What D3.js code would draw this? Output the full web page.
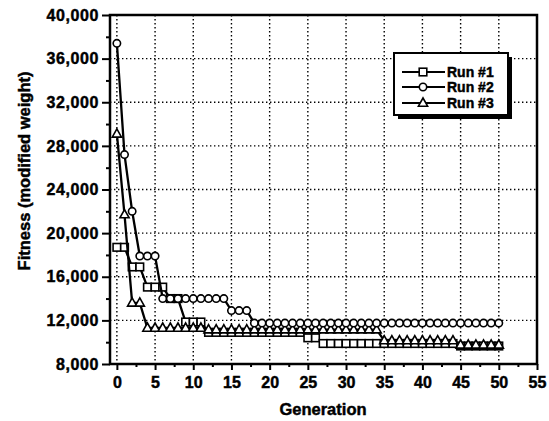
<!DOCTYPE html>
<html>
<head>
<meta charset="utf-8">
<script src="https://cdn.jsdelivr.net/npm/d3@7"></script>
<style>
  body { margin: 0; background: #fff; }
  text { font-family: "Liberation Sans", Arial, sans-serif; font-weight: bold; fill: #000; stroke: #000; stroke-width: 0.45px; }
</style>
</head>
<body>
<svg id="chart" width="549" height="421"></svg>
<script>
// values, one per generation
let generation = [0,1,2,3,4,5,6,7,8,9,10,11,12,13,14,15,16,17,18,19,20,21,22,23,24,25,
  26,27,28,29,30,31,32,33,34,35,36,37,38,39,40,41,42,43,44,45,46,47,48,49,50];

let run1 = [18700,18700,16900,16900,15050,15050,15050,14000,14000,11850,11850,11850,
  10900,10900,10900,10900,10900,10900,10900,10900,10900,10900,10900,10900,10900,
  10400,10400,9880,9880,9880,9880,9880,9880,9880,9880,9880,9880,9880,9880,9880,9880,
  9880,9880,9880,9880,9650,9650,9650,9650,9650,9650];

let run2 = [37400,27200,22000,17900,17900,17900,14000,14000,14000,14000,14000,14000,
  14000,14000,14000,12900,12900,12900,11750,11750,11750,11750,11750,11750,11750,11750,
  11750,11750,11750,11750,11750,11750,11750,11750,11750,11750,11750,11750,11750,11750,
  11750,11750,11750,11750,11750,11750,11750,11750,11750,11750,11750];

let run3 = [29100,21700,13600,13600,11300,11300,11300,11300,11300,11300,11300,11300,
  11150,11150,11150,11150,11150,11150,11150,11150,11150,11150,11150,11150,11150,11150,
  11150,11150,11150,11150,11150,11150,11150,11150,11150,10150,10150,10150,10150,10150,
  10150,10150,10150,10150,10150,9750,9750,9750,9750,9750,9750];

let seriesNames = ["Run #1", "Run #2", "Run #3"];
let xTicks = [0,5,10,15,20,25,30,35,40,45,50,55];
let xMinor = [2.5,7.5,12.5,17.5,22.5,27.5,32.5,37.5,42.5,47.5,52.5];
let yTicks = [8000,12000,16000,20000,24000,28000,32000,36000,40000];
let yMinor = [10000,14000,18000,22000,26000,30000,34000,38000];

let svg = d3.select("#chart");

let x = d3.scaleLinear().domain([-0.9, 55]).range([110, 537]);
let y = d3.scaleLinear().domain([8000, 40000]).range([364, 15]);

// dotted grid
let grid = svg.append("g")
  .attr("stroke", "#000")
  .attr("stroke-width", 1.4)
  .attr("stroke-dasharray", "1.4,2.6");
grid.selectAll(".gx").data(xTicks.slice(0, -1)).enter().append("line")
  .attr("x1", d => x(d)).attr("x2", d => x(d))
  .attr("y1", y(40000)).attr("y2", y(8000));
grid.selectAll(".gy").data(yTicks.slice(1, -1)).enter().append("line")
  .attr("x1", x.range()[0]).attr("x2", x.range()[1])
  .attr("y1", d => y(d)).attr("y2", d => y(d));

// axes
let yAxis = svg.append("g").attr("transform", "translate(110,0)")
  .call(d3.axisLeft(y).tickValues(yTicks).tickSize(8).tickPadding(3).tickFormat(d3.format(",")));
svg.append("g").attr("transform", "translate(110,0)")
  .call(d3.axisLeft(y).tickValues(yMinor).tickSize(4).tickFormat(""));
let xAxis = svg.append("g").attr("transform", "translate(0,364)")
  .call(d3.axisBottom(x).tickValues(xTicks).tickSize(6).tickPadding(7));
svg.append("g").attr("transform", "translate(0,364)")
  .call(d3.axisBottom(x).tickValues(xMinor).tickSize(3).tickFormat(""));

svg.selectAll(".domain").remove();
svg.selectAll(".tick line").attr("stroke", "#000").attr("stroke-width", 2);
yAxis.selectAll("text").attr("font-size", 16).attr("letter-spacing", 0.6)
  .attr("font-family", "Liberation Sans, Arial, sans-serif").attr("font-weight", "bold");
xAxis.selectAll("text").attr("font-size", 16)
  .attr("font-family", "Liberation Sans, Arial, sans-serif").attr("font-weight", "bold");

// frame
svg.append("rect")
  .attr("x", 110).attr("y", 15)
  .attr("width", 537 - 110).attr("height", 364 - 15)
  .attr("fill", "none").attr("stroke", "#000").attr("stroke-width", 2.5);

// titles
svg.append("text").text("Generation")
  .attr("x", 323).attr("y", 415)
  .attr("text-anchor", "middle").attr("font-size", 16.5);
svg.append("text").text("Fitness (modified weight)")
  .attr("transform", "translate(30,171) rotate(-90)")
  .attr("text-anchor", "middle").attr("font-size", 16.5);

// series
let runs = [
  {name: seriesNames[0], values: run1, shape: "square"},
  {name: seriesNames[1], values: run2, shape: "circle"},
  {name: seriesNames[2], values: run3, shape: "triangle"}
];

function marker(sel, shape) {
  if (shape == "circle") {
    sel.append("circle").attr("r", 3.7);
  } else if (shape == "square") {
    sel.append("rect").attr("x", -3.8).attr("y", -3.8).attr("width", 7.6).attr("height", 7.6);
  } else {
    sel.append("path").attr("d", "M0,-5L4.6,3.2L-4.6,3.2Z");
  }
  sel.selectAll("*").attr("fill", "#fff").attr("stroke", "#000").attr("stroke-width", 1.6);
}

let line = d3.line()
  .x((d, i) => x(generation[i]))
  .y(d => y(d));

// drawing order: squares, triangles, circles on top
let order = [runs[0], runs[2], runs[1]];
for (let r of order) {
  let g = svg.append("g");
  g.append("path").datum(r.values)
    .attr("d", line)
    .attr("fill", "none").attr("stroke", "#000").attr("stroke-width", 2.3);
  g.selectAll("g.pt").data(r.values).enter().append("g")
    .attr("transform", (d, i) => "translate(" + x(generation[i]) + "," + y(d) + ")")
    .each(function() { marker(d3.select(this), r.shape); });
}

// legend
let legend = svg.append("g");
legend.append("rect").attr("x", 398).attr("y", 57).attr("width", 114).attr("height", 62).attr("fill", "#000");
legend.append("rect").attr("x", 394).attr("y", 53).attr("width", 114).attr("height", 62)
  .attr("fill", "#fff").attr("stroke", "#000").attr("stroke-width", 2);
let rowY = [72, 87, 103];
runs.forEach((r, i) => {
  let row = legend.append("g").attr("transform", "translate(0," + rowY[i] + ")");
  row.append("line").attr("x1", 402).attr("x2", 445).attr("y1", 0).attr("y2", 0)
    .attr("stroke", "#000").attr("stroke-width", 2);
  let m = row.append("g").attr("transform", "translate(423,0)");
  marker(m, r.shape);
  row.append("text").text(r.name).attr("x", 447).attr("y", 5).attr("font-size", 14);
});
</script>
</body>
</html>
